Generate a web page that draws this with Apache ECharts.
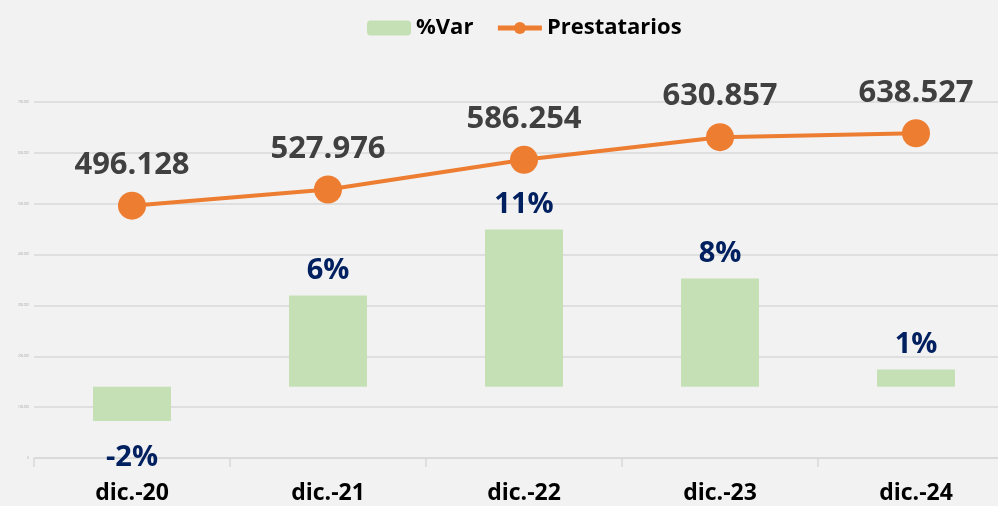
<!DOCTYPE html>
<html>
<head>
<meta charset="utf-8">
<script src="https://cdn.jsdelivr.net/npm/echarts@6/dist/echarts.min.js"></script>
<style>
  html, body { margin: 0; padding: 0; background: #f2f2f2; overflow: hidden; }
  #chart { width: 1014px; height: 506px; }
</style>
</head>
<body>
<div id="chart"></div>
<script>
// datos
const categories = ['dic.-20', 'dic.-21', 'dic.-22', 'dic.-23', 'dic.-24'];
const prestatarios = [496128, 527976, 586254, 630857, 638527];
const variacion = [-0.024, 0.0642, 0.1104, 0.0761, 0.0122];

const fontFamily = '"Open Sans", "Noto Sans", sans-serif';

function fmtMiles(v) {
    // separador de miles con punto
    return String(v).replace(/\B(?=(\d{3})+(?!\d))/g, '.');
}

// el gráfico original queda recortado a la derecha, por eso el div es más ancho que la ventana
const myChart = echarts.init(document.getElementById('chart'));

const option = {
    backgroundColor: '#f2f2f2',
    animation: false,
    textStyle: { fontFamily: fontFamily },
    legend: {
        data: ['%Var', 'Prestatarios'],
        top: 12,
        left: 362,
        itemWidth: 44,
        itemHeight: 15,
        itemGap: 22,
        lineStyle: { width: 5 },
        textStyle: { color: '#000', fontSize: 22, fontWeight: 'bold', fontFamily: fontFamily }
    },
    grid: {
        top: 102,
        left: 34,
        right: 0,
        height: 356,
        containLabel: false
    },
    xAxis: {
        type: 'category',
        data: categories,
        axisLine: { lineStyle: { color: '#d9d9d9', width: 1.5 } },
        axisTick: { show: true, length: 9, lineStyle: { color: '#d9d9d9', width: 1.5 } },
        axisLabel: {
            color: '#000',
            fontSize: 23,
            fontWeight: 'bold',
            margin: 24
        }
    },
    yAxis: [{
        type: 'value',
        min: 0,
        max: 700000,
        interval: 100000,
        axisLine: { show: false },
        axisTick: { show: false },
        axisLabel: { color: '#a6a6a6', fontSize: 3, margin: 5, formatter: fmtMiles },
        splitLine: { lineStyle: { color: '#d9d9d9', width: 1.5 } }
    }, {
        type: 'value',
        min: -0.05,
        max: 0.2,
        show: false,
        splitLine: { show: false }
    }],
    series: [{
        name: '%Var',
        type: 'bar',
        yAxisIndex: 1,
        barWidth: 78,
        itemStyle: { color: '#c5e0b4' },
        label: {
            show: true,
            position: 'top',
            distance: 10,
            color: '#002060',
            fontSize: 29,
            fontWeight: 'bold',
            formatter: function (p) { return Math.round(p.value * 100) + '%'; }
        },
        data: variacion.map(function (v) {
            return v < 0 ? { value: v, label: { position: 'bottom', distance: 22 } } : v;
        })
    }, {
        name: 'Prestatarios',
        type: 'line',
        yAxisIndex: 0,
        symbol: 'circle',
        symbolSize: 28,
        lineStyle: { color: '#ed7d31', width: 4 },
        itemStyle: { color: '#ed7d31' },
        label: {
            show: true,
            position: 'top',
            distance: 11,
            color: '#404040',
            fontSize: 31,
            fontWeight: 'bold',
            formatter: function (p) { return fmtMiles(p.value); }
        },
        data: prestatarios
    }]
};

myChart.setOption(option);
</script>
</body>
</html>
